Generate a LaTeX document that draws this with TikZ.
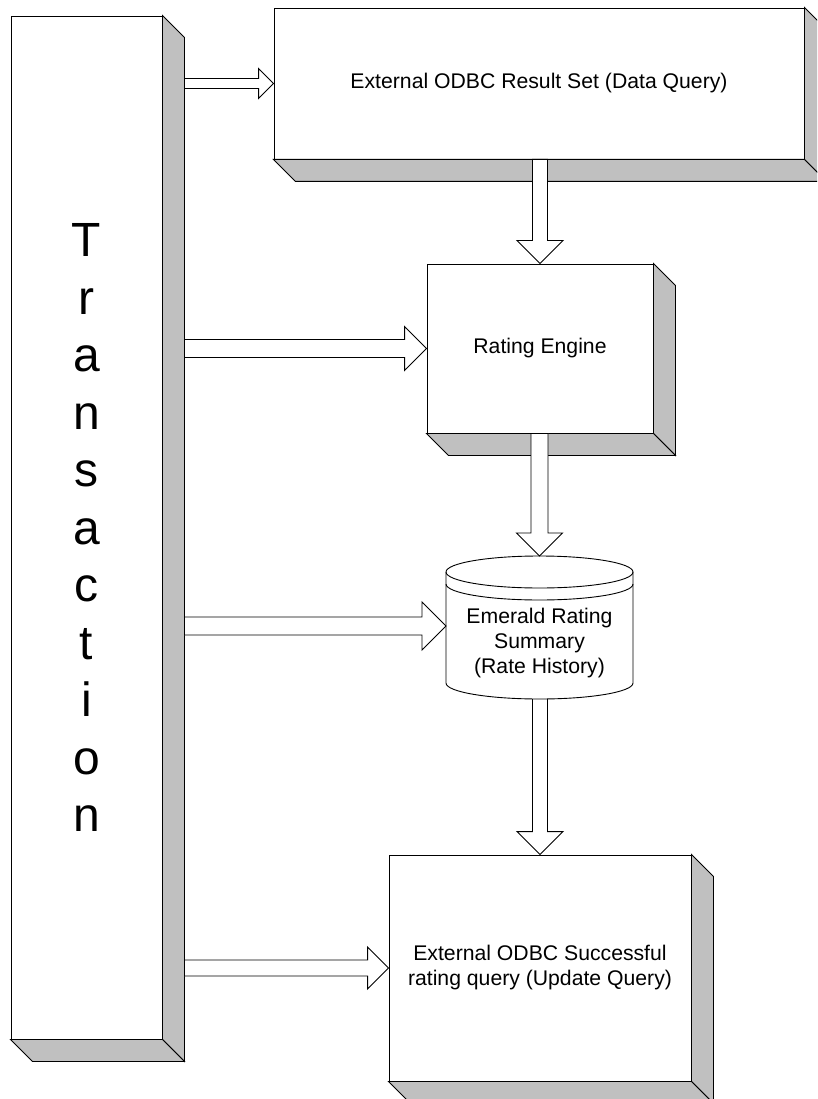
\documentclass[tikz,border=0pt]{standalone}
\usepackage{fontspec}
\setmainfont{Liberation Sans}
\usetikzlibrary{calc}
\definecolor{facegray}{HTML}{C0C0C0}
\tikzset{
  outline/.style={draw=black, line width=0.9pt, line join=miter},
  front/.style={outline, fill=white, rectangle, inner sep=0pt},
  sideface/.style={outline, fill=facegray},
  blockarrow/.style={outline, fill=white},
  boxtext/.style={font=\fontsize{21.2}{25}\selectfont, align=center},
  bigtext/.style={font=\fontsize{48}{57.5}\selectfont, align=center},
}
% grey right and bottom faces of a raised box
\newcommand{\raisedfaces}[2]{%
  \draw[sideface] (#1.north east) -- ++(#2,#2) -- ($(#1.south east)+(#2,#2)$) -- (#1.south east) -- cycle;
  \draw[sideface] (#1.south west) -- ++(#2,#2) -- ($(#1.south east)+(#2,#2)$) -- (#1.south east) -- cycle;
}
% hollow block arrow pointing right: start, tip, shaft half width, head half width
\newcommand{\harrow}[4]{%
  \draw[blockarrow] let \p1=(#1), \p2=(#2) in
    (\x1,\y2+#3pt) -- (\x2-#4pt,\y2+#3pt) -- (\x2-#4pt,\y2+#4pt) -- (\x2,\y2)
    -- (\x2-#4pt,\y2-#4pt) -- (\x2-#4pt,\y2-#3pt) -- (\x1,\y2-#3pt) -- cycle;
}
% hollow block arrow pointing down: start, tip, shaft half width, head half width
\newcommand{\varrow}[4]{%
  \draw[blockarrow] let \p1=(#1), \p2=(#2) in
    (\x2-#3pt,\y1) -- (\x2-#3pt,\y2+#4pt) -- (\x2-#4pt,\y2+#4pt) -- (\x2,\y2)
    -- (\x2+#4pt,\y2+#4pt) -- (\x2+#3pt,\y2+#4pt) -- (\x2+#3pt,\y1) -- cycle;
}
\begin{document}
\begin{tikzpicture}[x=1pt,y=-1pt]
\useasboundingbox (0,0) rectangle (817,1099);
\clip (0,0) rectangle (817,1099);

% transaction bar
\node[front, bigtext, minimum width=151pt, minimum height=1023pt] (bar) at (86.5,527.5)
  {T\\r\\a\\n\\s\\a\\c\\t\\i\\o\\n};
\raisedfaces{bar}{22}
\coordinate (barside) at ($(bar.east)+(22,0)$);

% process boxes
\node[front, boxtext, minimum width=530pt, minimum height=151pt] (odbc) at (539,83.5)
  {External ODBC Result Set (Data Query)};
\raisedfaces{odbc}{22}

\node[front, boxtext, minimum width=226pt, minimum height=169pt] (engine) at (540,348.5)
  {Rating Engine};
\raisedfaces{engine}{22}

\node[front, boxtext, minimum width=302pt, minimum height=226pt] (update) at (540,968)
  {External ODBC Successful\\rating query (Update Query)};
\raisedfaces{update}{22}

% rating summary store (cylinder)
\coordinate (cyltop) at (539.5,572);
\coordinate (cylbot) at (539.5,683);
\coordinate (cylcap) at ($(cyltop)+(0,-16)$);
\coordinate (cylwest) at ($(cyltop)+(-93.5,54)$);

\varrow{cylbot}{update.north}{7.5}{23}

\draw[outline, fill=white] ($(cyltop)+(-93.5,0)$) -- ($(cylbot)+(-93.5,0)$)
  arc[start angle=180, end angle=360, x radius=93.5pt, y radius=16pt]
  -- ($(cyltop)+(93.5,0)$)
  arc[start angle=0, end angle=180, x radius=93.5pt, y radius=16pt] -- cycle;
\draw[outline] ($(cyltop)+(-93.5,0)$) arc[start angle=180, end angle=360, x radius=93.5pt, y radius=16pt];
\draw[outline] ($(cyltop)+(-93.5,12)$) arc[start angle=180, end angle=360, x radius=93.5pt, y radius=16pt];
\node[boxtext] (store) at (539.5,643.5) {Emerald Rating\\Summary\\(Rate History)};

% flow arrows
\harrow{barside}{odbc.west}{5}{15}
\harrow{barside}{engine.west}{9}{22}
\harrow{barside}{cylwest}{9}{24}
\harrow{barside}{update.west}{8}{21}
\varrow{odbc.south}{engine.north}{7.5}{23}
\varrow{engine.south}{cylcap}{8.5}{23}
\end{tikzpicture}
\end{document}
